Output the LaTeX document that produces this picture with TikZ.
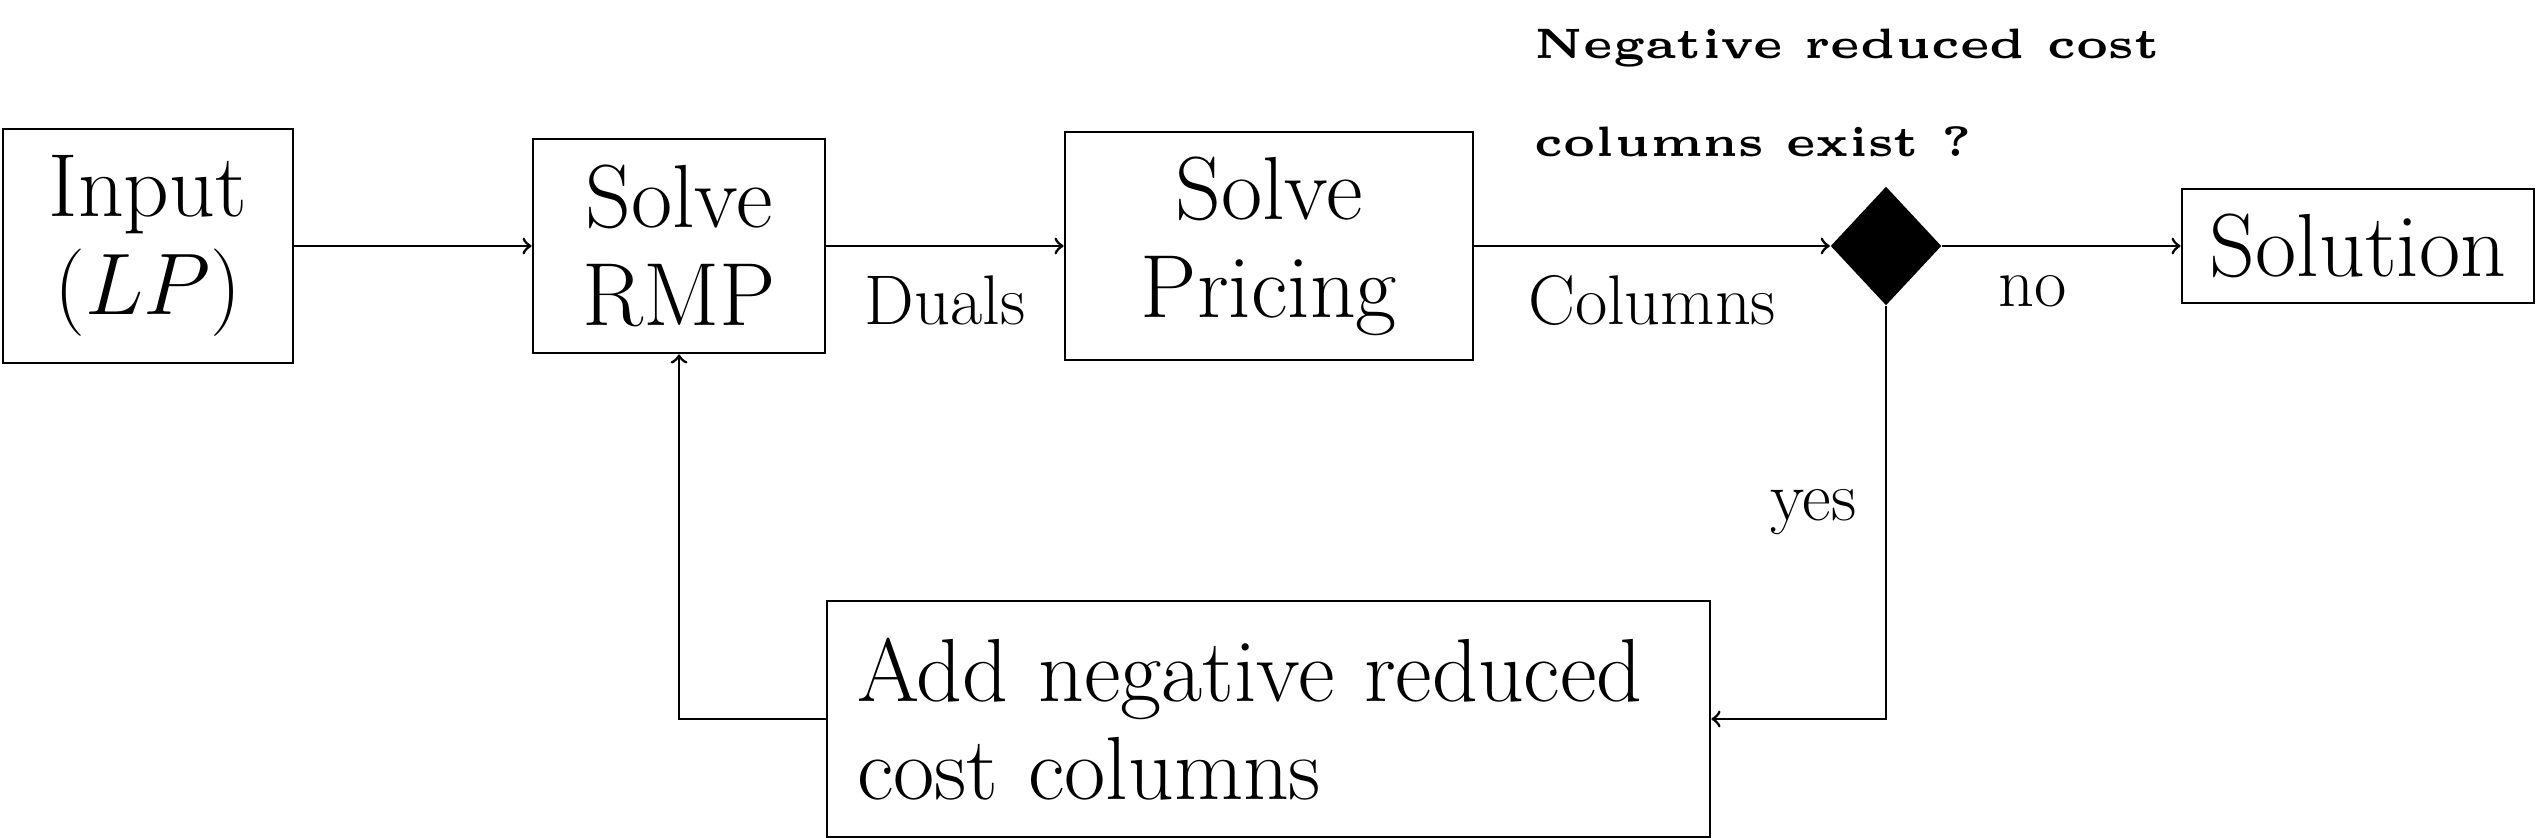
\documentclass[tikz,border=0pt]{standalone}
\usepackage{amsmath}
\usepackage{tikz}
\usetikzlibrary{shapes.geometric}

\begin{document}
\begin{tikzpicture}
\tikzset{blk/.style={draw,line width=0.8pt,align=center,inner sep=0pt,font=\fontsize{25.5}{27.8}\selectfont},
  lbl/.style={font=\fontsize{20}{24}\selectfont,inner sep=8pt},
  flow/.style={->,line width=0.8pt}}
\useasboundingbox (0,0) rectangle (25.38,8.38);

% Boxes
\node[blk,minimum width=2.9cm,minimum height=2.34cm] (inp) at (1.48,5.92) {Input\\$(LP)$};
\node[blk,minimum width=2.92cm,minimum height=2.14cm] (rmp) at (6.79,5.92) {Solve\\RMP};
\node[blk,minimum width=4.08cm,minimum height=2.28cm] (prc) at (12.69,5.92) {Solve\\Pricing};
\node[diamond,fill,minimum width=1.11cm,minimum height=1.19cm,inner sep=0pt] (dec) at (18.86,5.92) {};
\node[blk,minimum width=3.52cm,minimum height=1.14cm] (sol) at (23.58,5.92) {Solution};
\node[blk,align=left,text width=8.23cm,inner xsep=0.3cm,minimum height=2.36cm] (add) at (12.685,1.19) {Add negative reduced\\cost columns};

% Question over the diamond
\node[anchor=north west,inner sep=0pt,align=left,scale=2.42,transform shape,font=\tiny\bfseries] (qst) at (15.33,8.11)
  {Negative reduced cost\\[5.5pt]columns exist ?};

% Edges
\draw[flow] (inp.east) -- (rmp.west);
\draw[flow] (rmp.east) -- node[lbl,below] {Duals} (prc.west);
\draw[flow] (prc.east) -- node[lbl,below] {Columns} (dec.west);
\draw[flow] (dec.east) -- node[lbl,below,pos=0.38] {no} (sol.west);
\draw[flow] (dec.south) |- node[lbl,left,pos=0.25] {yes} (add.east);
\draw[flow] (add.west) -| (rmp.south);

\end{tikzpicture}
\end{document}
